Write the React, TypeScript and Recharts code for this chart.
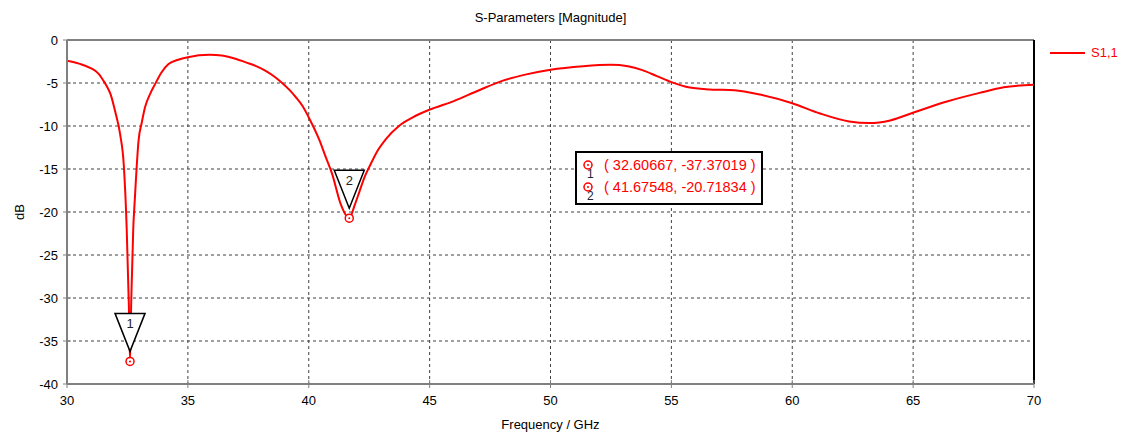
import React from "react";
import {
  ComposedChart,
  Line,
  XAxis,
  YAxis,
  CartesianGrid,
  ReferenceLine,
  ReferenceDot,
  Label,
} from "recharts";

// S1,1 curve (GHz / dB)
const freq = [
  30, 30.5, 31.0, 31.3, 31.5, 31.65, 31.8, 32.0, 32.2, 32.35, 32.47, 32.56,
  32.60667, 32.66, 32.74, 32.81, 32.96, 33.1, 33.23, 33.45, 33.65, 33.9, 34.2, 34.6,
  35.0, 35.9, 36.4, 37.0, 37.4, 37.8, 38.2, 38.6, 38.9, 39.2, 39.45, 39.75,
  40.0, 40.45, 40.7, 40.97, 41.3, 41.67548, 41.9, 42.1, 42.3, 42.55, 42.8, 43.2,
  43.73, 44.3, 45.0, 46.0, 47.0, 48.0, 49.0, 50.0, 51.35, 52.5, 53.2, 53.8,
  54.4, 55.0, 55.7, 56.6, 57.6, 58.6, 60.0, 61.15, 62.35, 63.2, 64.05, 65.05,
  66.4, 67.75, 68.75, 70.0,
];
const s11 = [
  -2.4, -2.75, -3.3, -3.9, -4.7, -5.4, -6.3, -8.4, -11.0, -14.6, -22.0, -31.0,
  -37.37019, -30.0, -22.0, -18.3, -11.7, -9.5, -7.8, -6.2, -5.1, -3.8, -2.8, -2.3,
  -2.0, -1.72, -1.8, -2.2, -2.6, -3.0, -3.55, -4.3, -5.0, -5.8, -6.6, -7.7,
  -9.0, -11.7, -13.6, -15.6, -18.9, -20.71834, -19.2, -17.6, -16.0, -14.5, -13.1, -11.5,
  -10.0, -9.0, -8.1, -7.1, -5.9, -4.75, -4.0, -3.45, -3.04, -2.88, -3.05, -3.5,
  -4.2, -4.9, -5.5, -5.75, -5.85, -6.3, -7.35, -8.55, -9.47, -9.66, -9.35, -8.4,
  -7.15, -6.15, -5.5, -5.2,
];

const xTicks = [30, 35, 40, 45, 50, 55, 60, 65, 70];
const yTicks = [0, -5, -10, -15, -20, -25, -30, -35, -40];

const markerIds = ["1", "2"];
const markerFreq = [32.60667, 41.67548];
const markerDb = [-37.37019, -20.71834];

const curve = freq.map((f, i) => ({ f, db: s11[i] }));

const FONT = "'Liberation Sans', Arial, sans-serif";
const RED = "#ff0000";

const XTick = ({ x, y, payload }: any) => (
  <g>
    <line x1={x} x2={x} y1={y - 8} y2={y} stroke="#808080" />
    <text x={x} y={y + 17} textAnchor="middle" fontSize={13} fontFamily={FONT} fill="#000">
      {payload.value}
    </text>
  </g>
);

const YTick = ({ x, y, payload }: any) => (
  <g>
    <line x1={x} x2={x + 8} y1={y} y2={y} stroke="#808080" />
    <text x={x - 5} y={y + 5} textAnchor="end" fontSize={13} fontFamily={FONT} fill="#000">
      {payload.value}
    </text>
  </g>
);

// ring on the curve plus the numbered flag above it
const MarkerShape = ({ cx, cy, id }: any) => (
  <g>
    <polygon
      points={`${cx - 15},${cy - 48} ${cx + 15},${cy - 48} ${cx},${cy - 10}`}
      fill="#fff"
      stroke="#000"
      strokeWidth={1.5}
    />
    <text x={cx} y={cy - 33} textAnchor="middle" fontSize={13} fontFamily={FONT} fill="#222">
      {id}
    </text>
    <circle cx={cx} cy={cy} r={4} fill="#fff" stroke={RED} strokeWidth={1.5} />
    <circle cx={cx} cy={cy} r={1} fill={RED} />
  </g>
);

const BoxRow = ({ id, f, db }: any) => (
  <div style={{ position: "relative", height: 22 }}>
    <svg width={12} height={12} style={{ position: "absolute", left: 5, top: 4 }}>
      <circle cx={6} cy={6} r={4} fill="#fff" stroke={RED} strokeWidth={1.5} />
      <circle cx={6} cy={6} r={1} fill={RED} />
    </svg>
    <span style={{ position: "absolute", left: 10, top: 12, fontSize: 12, color: "#223" }}>{id}</span>
    <span style={{ position: "absolute", left: 27, top: 2, fontSize: 14.5, color: RED, whiteSpace: "pre" }}>
      {`( ${f.toFixed(5)}, ${db.toFixed(5)} )`}
    </span>
  </div>
);

export default function App() {
  return (
    <div
      style={{
        position: "absolute",
        left: 0,
        top: 0,
        width: 1123,
        height: 436,
        background: "#fff",
        fontFamily: FONT,
      }}
    >
      <div
        style={{
          position: "absolute",
          left: 0,
          width: 1101,
          top: 10,
          textAlign: "center",
          fontSize: 13,
          color: "#000",
        }}
      >
        S-Parameters [Magnitude]
      </div>

      <ComposedChart
        width={1123}
        height={436}
        margin={{ top: 40, right: 89, bottom: 8, left: 7 }}
      >
        <CartesianGrid stroke="#404040" strokeDasharray="3 3" />
        <XAxis
          dataKey="f"
          type="number"
          domain={[30, 70]}
          ticks={xTicks}
          allowDataOverflow
          height={44}
          tickSize={4}
          tickMargin={0}
          tickLine={false}
          tick={<XTick />}
          axisLine={{ stroke: "#808080", strokeWidth: 2 }}
        >
          <Label
            value="Frequency / GHz"
            position="insideBottom"
            offset={-1}
            fontSize={13}
            fontFamily={FONT}
            fill="#000"
          />
        </XAxis>
        <YAxis
          type="number"
          domain={[-40, 0]}
          ticks={yTicks}
          allowDataOverflow
          width={60}
          tickSize={4}
          tickMargin={0}
          tickLine={false}
          tick={<YTick />}
          axisLine={{ stroke: "#808080", strokeWidth: 2 }}
        >
          <Label
            content={({ viewBox }: any) => (
              <text
                x={viewBox.x + 17}
                y={viewBox.y + viewBox.height / 2}
                transform={`rotate(-90 ${viewBox.x + 17} ${viewBox.y + viewBox.height / 2})`}
                textAnchor="middle"
                fontSize={13}
                fontFamily={FONT}
                fill="#000"
              >
                dB
              </text>
            )}
          />
        </YAxis>
        <ReferenceLine y={0} stroke="#808080" strokeWidth={2} />
        <ReferenceLine x={70} stroke="#000" strokeWidth={2} />
        <Line
          data={curve}
          dataKey="db"
          type="monotone"
          stroke={RED}
          strokeWidth={2}
          dot={false}
          activeDot={false}
          isAnimationActive={false}
        />
        {markerIds.map((id, i) => (
          <ReferenceDot
            key={id}
            x={markerFreq[i]}
            y={markerDb[i]}
            ifOverflow="visible"
            shape={(p: any) => <MarkerShape {...p} id={id} />}
          />
        ))}
      </ComposedChart>

      {/* marker readout box */}
      <div
        style={{
          position: "absolute",
          left: 575,
          top: 151,
          width: 184,
          height: 48,
          border: "2px solid #000",
          background: "#fff",
          paddingTop: 2,
        }}
      >
        {markerIds.map((id, i) => (
          <BoxRow key={id} id={id} f={markerFreq[i]} db={markerDb[i]} />
        ))}
      </div>

      {/* series legend */}
      <div style={{ position: "absolute", left: 1050, top: 45, display: "flex", alignItems: "center" }}>
        <div style={{ width: 35, height: 2, background: RED }} />
        <span style={{ marginLeft: 6, fontSize: 13, color: RED }}>S1,1</span>
      </div>
    </div>
  );
}
